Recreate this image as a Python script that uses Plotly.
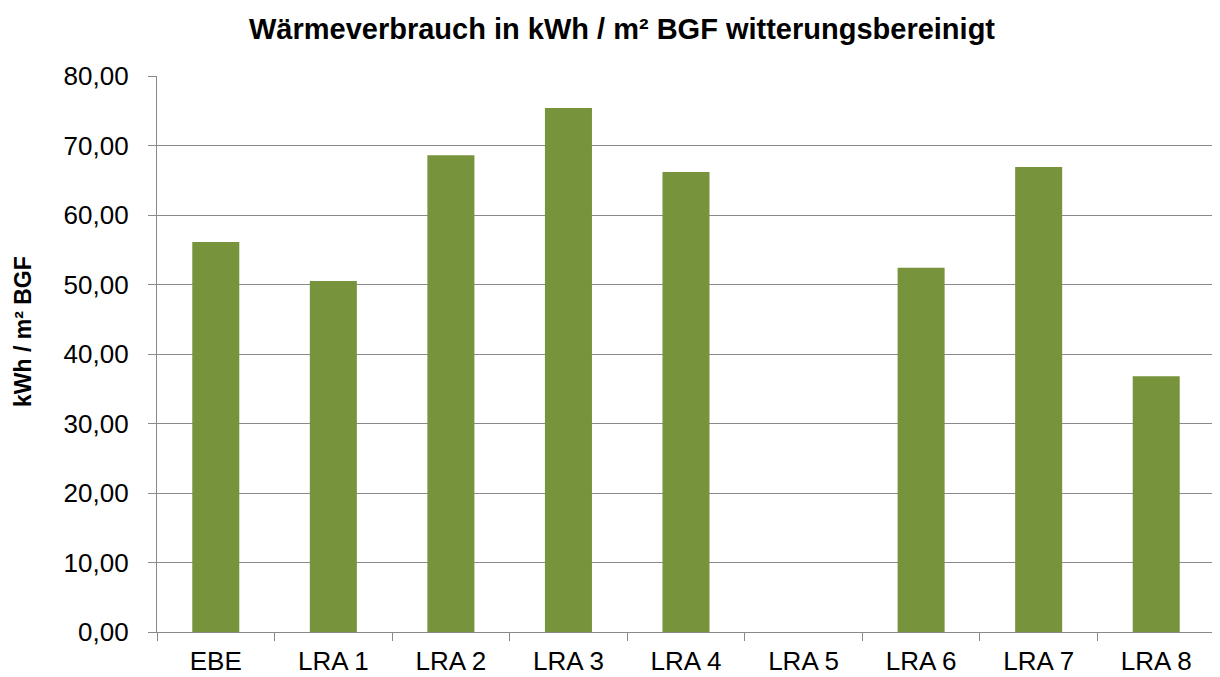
import plotly.graph_objects as go

categories = ["EBE", "LRA 1", "LRA 2", "LRA 3", "LRA 4", "LRA 5", "LRA 6", "LRA 7", "LRA 8"]
values = [56.1, 50.5, 68.6, 75.4, 66.2, None, 52.4, 66.9, 36.8]
y_ticks = [0, 10, 20, 30, 40, 50, 60, 70, 80]

title_text = "Wärmeverbrauch in kWh / m² BGF witterungsbereinigt"
y_title = "kWh / m² BGF"

font_family = "Liberation Sans, Arial, sans-serif"
grid_col = "#8a8a8a"

# page body has an 8px margin; figure coordinates are offset by 8px
W, H = 1220, 677
off = 8
plot_l, plot_r, plot_t, plot_b = 157 - off, 1215 - off, 76 - off, 632 - off

fig = go.Figure(go.Bar(
    x=categories, y=values,
    marker=dict(color="#77933C", line=dict(width=0)),
    width=0.4,
))

fig.update_layout(
    width=W, height=H,
    paper_bgcolor="white", plot_bgcolor="white",
    separators=",.",
    margin=dict(l=plot_l, r=W - plot_r, t=plot_t, b=H - plot_b, autoexpand=False),
    font=dict(family=font_family, size=26, color="black"),
    showlegend=False,
    title=dict(text="<b>" + title_text + "</b>", x=(622 - off) / W, xanchor="center",
               y=1 - (29 - off) / H, yanchor="middle",
               font=dict(family=font_family, size=29, color="black")),
    xaxis=dict(
        showline=True, linecolor=grid_col, linewidth=1.3,
        ticks="outside", ticklen=8, tickcolor=grid_col, tickwidth=1.3,
        tickson="boundaries", showgrid=False,
        tickfont=dict(size=26), ticklabelstandoff=6,
    ),
    yaxis=dict(
        range=[0, 80], tickvals=y_ticks, tickformat=".2f",
        showline=True, linecolor=grid_col, linewidth=1.3,
        ticks="outside", ticklen=8, tickcolor=grid_col, tickwidth=1.3,
        showgrid=True, gridcolor=grid_col, gridwidth=1.3,
        zeroline=False, tickfont=dict(size=26),
        ticklabelstandoff=14,
    ),
    annotations=[dict(
        text="<b>" + y_title + "</b>", textangle=-90,
        xref="paper", yref="paper",
        x=-(157 - 23) / (plot_r - plot_l), y=(632 - 332) / (plot_b - plot_t),
        xanchor="center", yanchor="middle", showarrow=False,
        font=dict(family=font_family, size=23, color="black"),
    )],
)

fig.write_html("out.html")
